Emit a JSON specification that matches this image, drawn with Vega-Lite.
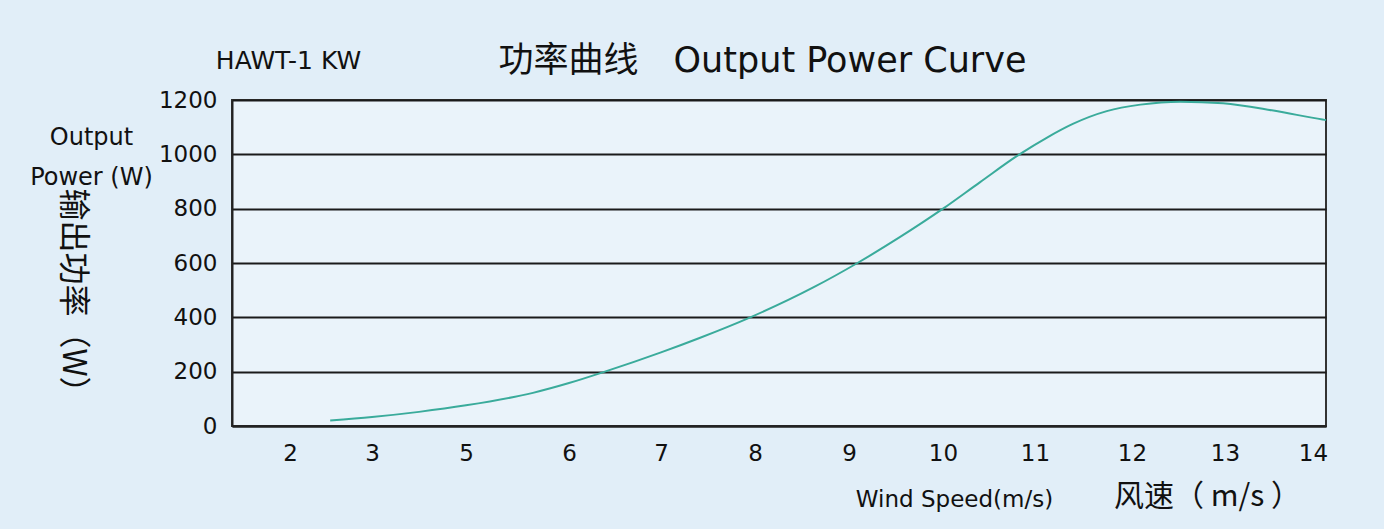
{
  "$schema": "https://vega.github.io/schema/vega-lite/v6.json",
  "width": 1094,
  "height": 326,
  "autosize": "none",
  "padding": {"left": 232, "top": 100, "right": 58, "bottom": 103},
  "background": "#e1eef8",
  "config": {
    "view": {"stroke": "#333333", "strokeWidth": 2, "fill": "#eaf3fa"},
    "axis": {
      "labelFont": "DejaVu Sans",
      "labelFontSize": 23,
      "labelColor": "#111111",
      "titleColor": "#111111",
      "titleFontWeight": "normal",
      "domainColor": "#222222",
      "domainWidth": 2,
      "gridColor": "#1a1a1a",
      "gridWidth": 2,
      "gridOpacity": 1,
      "ticks": false,
      "labelFlush": false,
      "labelOverlap": false,
      "labelBound": false
    }
  },
  "data": {
    "values": [
      {"speed": 2.49, "power": 20},
      {"speed": 3.0, "power": 33},
      {"speed": 4.0, "power": 52},
      {"speed": 5.0, "power": 76},
      {"speed": 5.65, "power": 122},
      {"speed": 6.0, "power": 158},
      {"speed": 6.39, "power": 200},
      {"speed": 7.0, "power": 271},
      {"speed": 7.41, "power": 324},
      {"speed": 7.95, "power": 400},
      {"speed": 8.62, "power": 510},
      {"speed": 9.09, "power": 600},
      {"speed": 9.54, "power": 695},
      {"speed": 10.0, "power": 800},
      {"speed": 10.4, "power": 897},
      {"speed": 10.84, "power": 1002},
      {"speed": 11.12, "power": 1061},
      {"speed": 11.39, "power": 1112},
      {"speed": 11.74, "power": 1159},
      {"speed": 12.09, "power": 1183},
      {"speed": 12.52, "power": 1194},
      {"speed": 12.98, "power": 1188},
      {"speed": 13.55, "power": 1161},
      {"speed": 14.11, "power": 1128},
      {"speed": 14.15, "power": 1126}
    ]
  },
  "layer": [
    {
      "mark": {"type": "line", "color": "#3aab9b", "strokeWidth": 2, "interpolate": "monotone"},
      "encoding": {
        "x": {
          "field": "speed",
          "type": "quantitative",
          "scale": {
            "type": "linear",
            "domain": [1.29, 2, 3, 5, 6, 7, 8, 9, 10, 11, 12, 13, 14, 14.15],
            "range": [0, 58, 140, 234, 337, 429, 523, 617, 711, 803, 900, 993, 1081, 1094],
            "zero": false,
            "nice": false
          },
          "axis": {
            "orient": "bottom",
            "values": [2, 3, 5, 6, 7, 8, 9, 10, 11, 12, 13, 14],
            "grid": false,
            "labelPadding": 16,
            "title": "Wind Speed(m/s)",
            "titleFont": "DejaVu Sans",
            "titleFontSize": 23,
            "titleX": 722,
            "titleY": 80,
            "titleAlign": "center",
            "titleBaseline": "alphabetic",
            "titleAngle": 0
          }
        },
        "y": {
          "field": "power",
          "type": "quantitative",
          "scale": {"domain": [0, 1200], "nice": false, "zero": true},
          "axis": {
            "orient": "left",
            "values": [0, 200, 400, 600, 800, 1000, 1200],
            "format": "d",
            "grid": true,
            "labelPadding": 15,
            "title": ["Output", "Power (W)"],
            "titleFont": "DejaVu Sans",
            "titleFontSize": 24,
            "titleLineHeight": 40,
            "titleAngle": 0,
            "titleX": -141,
            "titleY": 44,
            "titleAlign": "center",
            "titleBaseline": "alphabetic"
          }
        }
      }
    },
    {
      "mark": {"type": "line", "opacity": 0},
      "encoding": {
        "x": {
          "field": "speed",
          "type": "quantitative",
          "axis": {
            "orient": "bottom",
            "labels": false,
            "domain": false,
            "grid": false,
            "title": "风速（ m/s ）",
            "titleFont": "Noto Sans CJK SC",
            "titleFontSize": 30,
            "titleX": 975,
            "titleY": 79,
            "titleAlign": "center",
            "titleBaseline": "alphabetic",
            "titleAngle": 0
          }
        },
        "y": {
          "field": "power",
          "type": "quantitative",
          "axis": {
            "orient": "left",
            "labels": false,
            "domain": false,
            "grid": false,
            "title": "输出功率（W）",
            "titleFont": "Noto Sans CJK SC",
            "titleFontSize": 32,
            "titleAngle": 90,
            "titleX": -160,
            "titleY": 198,
            "titleAlign": "center",
            "titleBaseline": "middle"
          }
        }
      }
    },
    {
      "mark": {"type": "line", "opacity": 0},
      "encoding": {
        "x": {
          "field": "speed",
          "type": "quantitative",
          "axis": {
            "orient": "top",
            "labels": false,
            "domain": false,
            "grid": false,
            "title": "功率曲线　Output Power Curve",
            "titleFont": "DejaVu Sans, Noto Sans CJK SC",
            "titleFontSize": 35,
            "titleX": 530,
            "titleY": -29,
            "titleAlign": "center",
            "titleBaseline": "alphabetic",
            "titleAngle": 0
          }
        },
        "y": {
          "field": "power",
          "type": "quantitative",
          "axis": {
            "orient": "left",
            "labels": false,
            "domain": false,
            "grid": false,
            "title": "HAWT-1 KW",
            "titleFont": "DejaVu Sans",
            "titleFontSize": 25,
            "titleAngle": 0,
            "titleX": 56,
            "titleY": -32,
            "titleAlign": "center",
            "titleBaseline": "alphabetic"
          }
        }
      }
    }
  ],
  "resolve": {"axis": {"x": "independent", "y": "independent"}}
}
